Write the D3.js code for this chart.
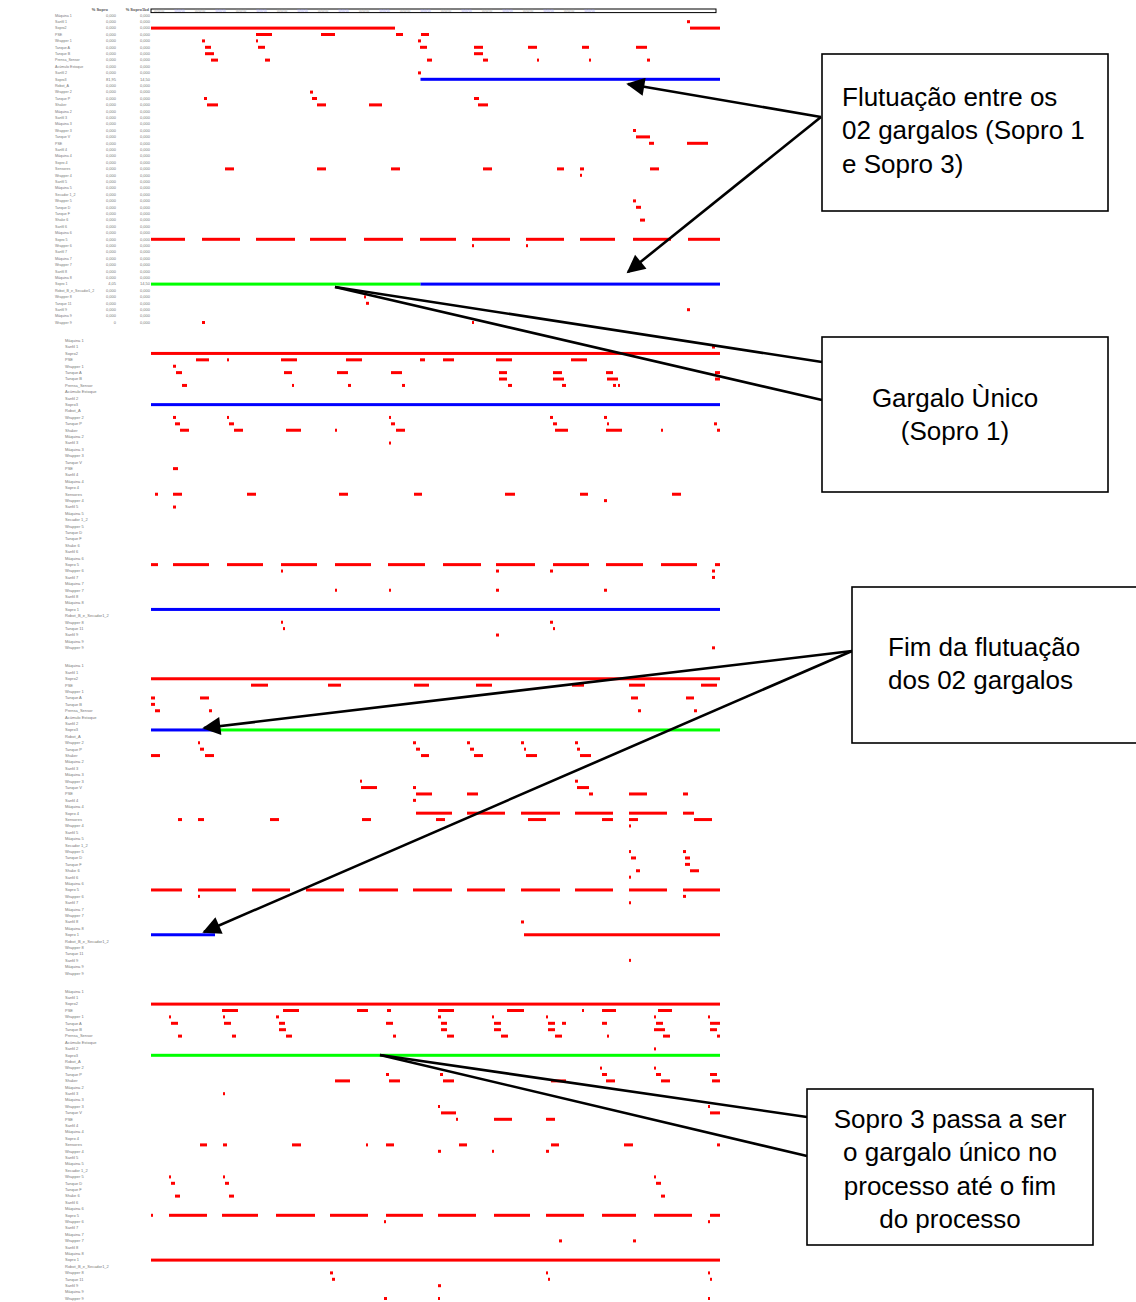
<!DOCTYPE html>
<html>
<head>
<meta charset="utf-8">
<script src="https://cdn.jsdelivr.net/npm/d3@7"></script>
<style>
  body { margin: 0; background: #fff; }
  svg { display: block; }
</style>
</head>
<body>
<div id="chart"></div>
<script>
// row names (same in the 4 blocks)
var rowNames = ["Máquina 1","Sanfil 1","Sopro2","PSE","Wrapper 1","Tanque A","Tanque B","Prensa_Sensor",
  "Acúmulo Estoque","Sanfil 2","Sopro3","Robot_A","Wrapper 2","Tanque P","Shaker","Máquina 2","Sanfil 3",
  "Máquina 3","Wrapper 3","Tanque V","PSE","Sanfil 4","Máquina 4","Sopro 4","Sensores","Wrapper 4",
  "Sanfil 5","Máquina 5","Secador 1_2","Wrapper 5","Tanque D","Tanque F","Shake 6","Sanfil 6","Máquina 6",
  "Sopro 5","Wrapper 6","Sanfil 7","Máquina 7","Wrapper 7","Sanfil 8","Máquina 8","Sopro 1",
  "Robot_B_e_Secador1_2","Wrapper 8","Tanque 11","Sanfil 9","Máquina 9","Wrapper 9"];

// % columns, only shown on the first block
var colHeaders = ["% Sopro", "% Sopro1bd"];
var pctSopro = rowNames.map(function(d, i) { return i == 10 ? "81,95" : i == 42 ? "4,05" : i == 48 ? "0" : "0,000"; });
var pctSoproBd = rowNames.map(function(d, i) { return (i == 10 || i == 42) ? "14,50" : "0,000"; });

var timeDomain = [0, 569];

// red segments: [row, start, end]
var block1 = [[1,536,539],[2,0,244],[2,539,569],
  [3,105,121],[3,170,184],[3,245,252],[3,270,278],
  [4,51,54],[4,105,107],[4,267,270],
  [5,54,60],[5,107,114],[5,269,276],[5,323,332],[5,377,386],[5,431,438],[5,485,496],
  [6,54,63],[6,323,332],
  [7,60,67],[7,114,119],[7,276,281],[7,332,337],[7,386,388],[7,438,440],[7,496,499],
  [9,267,270],[12,159,162],
  [13,53,56],[13,161,166],[13,323,328],
  [14,56,67],[14,166,175],[14,218,231],[14,327,337],
  [18,482,485],[19,485,499],[20,498,503],[20,536,557],
  [24,74,83],[24,166,175],[24,240,249],[24,332,341],[24,406,413],[24,429,433],[24,499,508],
  [25,429,431],[29,482,485],[30,485,490],[32,489,494],
  [35,0,34],[35,51,89],[35,105,144],[35,159,195],[35,213,252],[35,269,305],[35,321,359],[35,375,413],[35,429,464],[35,482,520],[35,537,569],
  [36,321,323],[36,375,377],
  [44,213,215],[45,215,218],[46,536,539],[48,51,54],[48,321,323]];

var block2 = [[1,561,564],[2,0,569],
  [3,45,58],[3,76,78],[3,130,146],[3,195,211],[3,269,274],[3,292,303],[3,345,361],[3,420,436],
  [4,22,25],
  [5,25,31],[5,133,141],[5,186,197],[5,240,251],[5,348,356],[5,402,411],[5,455,462],[5,564,569],
  [6,348,356],[6,402,413],[6,456,467],[6,564,569],
  [7,31,36],[7,141,143],[7,197,200],[7,251,254],[7,357,361],[7,411,415],[7,462,465],[7,467,469],
  [12,22,25],[12,76,78],[12,238,240],[12,399,402],[12,453,456],
  [13,24,29],[13,78,83],[13,240,244],[13,402,406],[13,456,458],[13,563,566],
  [14,29,38],[14,83,92],[14,135,150],[14,184,186],[14,245,254],[14,404,417],[14,455,471],[14,510,512],[14,566,569],
  [16,238,240],[20,22,27],
  [24,4,7],[24,22,31],[24,96,105],[24,188,197],[24,263,271],[24,354,364],[24,429,437],[24,521,530],
  [25,453,456],[26,22,25],
  [35,0,7],[35,22,58],[35,76,112],[35,130,166],[35,184,220],[35,237,274],[35,292,330],[35,345,384],[35,402,438],[35,455,492],[35,510,546],[35,564,569],
  [36,130,132],[36,345,348],[36,399,402],[36,561,564],[37,561,564],
  [39,184,186],[39,238,240],[39,345,348],[39,453,456],
  [44,130,132],[44,399,402],[45,132,134],[45,402,404],[46,345,348],[48,561,564]];

var block3 = [[2,0,569],
  [3,100,117],[3,177,190],[3,263,278],[3,325,341],[3,421,433],[3,478,494],[3,550,566],
  [5,0,4],[5,49,58],[5,480,487],[5,535,543],[6,0,4],
  [7,4,9],[7,58,61],[7,487,490],[7,543,546],
  [12,47,49],[12,262,265],[12,316,319],[12,370,373],[12,424,427],
  [13,49,53],[13,265,269],[13,319,323],[13,373,375],[13,426,429],
  [14,0,9],[14,54,63],[14,270,278],[14,323,332],[14,375,386],[14,429,440],
  [18,209,211],[18,424,427],
  [19,210,226],[19,262,265],[19,426,438],
  [20,265,281],[20,316,327],[20,438,442],[20,478,496],[20,532,537],
  [21,262,265],
  [23,265,301],[23,316,354],[23,370,409],[23,424,462],[23,478,516],[23,532,543],
  [24,27,31],[24,47,53],[24,119,128],[24,211,220],[24,285,294],[24,377,395],[24,451,462],[24,478,487],[24,543,561],
  [25,478,480],[29,478,480],[29,532,535],[30,480,485],[30,534,539],[31,534,539],
  [32,485,489],[32,539,548],[33,478,480],
  [35,0,31],[35,47,85],[35,101,139],[35,155,193],[35,208,247],[35,262,301],[35,316,354],[35,370,409],[35,424,462],[35,478,516],[35,532,569],
  [36,47,49],[36,532,535],[37,478,480],[40,370,373],
  [42,373,569],[46,478,480]];

var block4 = [[2,0,569],
  [3,71,87],[3,132,148],[3,206,217],[3,236,240],[3,287,303],[3,356,373],[3,431,433],[3,451,465],[3,507,521],
  [4,18,20],[4,72,74],[4,125,128],[4,287,290],[4,341,343],[4,395,397],[4,503,505],[4,557,559],
  [5,20,27],[5,73,80],[5,128,134],[5,235,242],[5,290,296],[5,343,350],[5,397,404],[5,411,415],[5,451,456],[5,505,512],[5,559,569],
  [6,128,135],[6,290,296],[6,343,350],[6,397,404],[6,503,514],[6,559,566],
  [7,27,31],[7,81,85],[7,135,141],[7,242,245],[7,296,303],[7,350,357],[7,404,411],[7,456,458],[7,512,519],[7,566,569],
  [9,503,505],[12,449,451],[12,503,505],
  [13,235,238],[13,289,292],[13,451,456],[13,505,510],[13,559,566],
  [14,184,199],[14,238,249],[14,292,303],[14,400,415],[14,455,464],[14,510,519],[14,561,569],
  [16,72,74],[18,287,289],[18,557,559],
  [19,290,305],[19,559,569],
  [20,305,307],[20,343,361],[20,395,404],
  [24,49,56],[24,72,76],[24,141,150],[24,215,217],[24,235,243],[24,308,316],[24,400,408],[24,473,482],[24,566,569],
  [25,287,290],[25,341,343],[25,395,398],
  [29,18,20],[29,72,74],[29,503,505],[30,20,24],[30,74,78],[30,505,510],[32,24,29],[32,78,83],[32,510,514],
  [35,0,2],[35,18,56],[35,71,107],[35,125,164],[35,179,217],[35,235,272],[35,287,325],[35,343,379],[35,395,433],[35,451,485],[35,503,541],[35,559,569],
  [36,233,235],[36,557,559],[39,408,411],[39,482,485],
  [42,0,569],
  [44,179,182],[44,395,397],[44,557,559],[45,181,184],[45,397,399],[45,559,561],
  [46,287,290],[48,233,236],[48,287,289],[48,557,559]];

// bottleneck rows: [block, row, start, end, state]
var gargalos = [[0,10,269.5,569,"flutua"],[0,42,0,269.5,"unico"],[0,42,269.5,569,"flutua"],
  [1,10,0,569,"flutua"],[1,42,0,569,"flutua"],
  [2,10,0,64,"flutua"],[2,10,64,569,"unico"],[2,42,0,64,"flutua"],
  [3,10,0,569,"unico"]];

var notes = [
  ["Flutuação entre os", "02 gargalos (Sopro 1", "e Sopro 3)"],
  ["Gargalo Ùnico", "(Sopro 1)"],
  ["Fim da flutuação", "dos 02 gargalos"],
  ["Sopro 3 passa a ser", "o gargalo único no", "processo até o fim", "do processo"]
];

var width = 1136, height = 1302;
var blocks = [block1, block2, block3, block4];

var svg = d3.select("#chart").append("svg")
  .attr("width", width).attr("height", height);

var x = d3.scaleLinear().domain(timeDomain).range([151, 720]);
var y = d3.scaleLinear().domain([0, 48]).range([0, 307.2]);
var blockTop = d3.scaleLinear().domain([0, 3]).range([15.3, 991.3]);
var color = d3.scaleOrdinal().domain(["flutua","unico"]).range(["#0000ff","#00ff00"]);
var barH = 3;

blocks.forEach(function(data, b) {
  var g = svg.append("g").attr("transform", "translate(0," + blockTop(b) + ")");

  g.selectAll("text.lbl").data(rowNames).enter().append("text")
    .attr("class", "lbl")
    .attr("x", b == 0 ? 55 : 65).attr("y", function(d, i) { return y(i) + 1.4; })
    .style("font-family", "Liberation Sans, Arial, sans-serif")
    .style("font-size", b == 0 ? "3.6px" : "4px").style("fill", "#777")
    .text(function(d) { return d; });

  if (b == 0) {
    g.selectAll("text.c1").data(pctSopro).enter().append("text")
      .attr("x", 116).attr("y", function(d, i) { return y(i) + 1.4; })
      .attr("text-anchor", "end")
      .style("font-family", "Liberation Sans, Arial, sans-serif")
      .style("font-size", "4px").style("fill", "#777").text(function(d) { return d; });
    g.selectAll("text.c2").data(pctSoproBd).enter().append("text")
      .attr("x", 150).attr("y", function(d, i) { return y(i) + 1.4; })
      .attr("text-anchor", "end")
      .style("font-family", "Liberation Sans, Arial, sans-serif")
      .style("font-size", "4px").style("fill", "#777").text(function(d) { return d; });
    // header
    g.selectAll("text.h").data(colHeaders).enter().append("text")
      .attr("x", function(d, i) { return i == 0 ? 108 : 149; })
      .attr("y", -4.2).attr("text-anchor", "end")
      .style("font-family", "Liberation Sans, Arial, sans-serif")
      .style("font-size", "4px").style("font-weight", "bold").style("fill", "#555")
      .text(function(d) { return d; });
    g.append("rect").attr("x", 151).attr("y", -6.3).attr("width", 565).attr("height", 3.6)
      .style("fill", "#fff").style("stroke", "#000").style("stroke-width", 1);
    var tk = d3.range(0, 22);
    g.selectAll("text.tk").data(tk).enter().append("text")
      .attr("x", function(d) { return 154 + d * 20.5; }).attr("y", -3.3)
      .style("font-family", "Liberation Sans, Arial, sans-serif")
      .style("font-size", "2.6px")
      .style("fill", function(d) { return d % 2 ? "#9999ee" : "#999"; })
      .text("00:00:00");
  }

  g.selectAll("rect.bar").data(data).enter().append("rect")
    .attr("class", "bar")
    .attr("x", function(d) { return x(d[1]); })
    .attr("y", function(d) { return y(d[0]) - barH / 2; })
    .attr("width", function(d) { return Math.max(1.5, x(d[2]) - x(d[1])); })
    .attr("height", barH)
    .style("fill", "#ff0000");

  g.selectAll("rect.gg").data(gargalos.filter(function(d) { return d[0] == b; })).enter().append("rect")
    .attr("class", "gg")
    .attr("x", function(d) { return x(d[2]); })
    .attr("y", function(d) { return y(d[1]) - barH / 2; })
    .attr("width", function(d) { return x(d[3]) - x(d[2]); })
    .attr("height", barH)
    .style("fill", function(d) { return color(d[4]); });
});

// callouts
var boxes = [
  {x: 822, y: 54, w: 286, h: 157, tx: 842, anchor: "start", by: 106},
  {x: 822, y: 337, w: 286, h: 155, tx: 955, anchor: "middle", by: 407},
  {x: 852, y: 587, w: 300, h: 156, tx: 888, anchor: "start", by: 656},
  {x: 807, y: 1089, w: 286, h: 156, tx: 950, anchor: "middle", by: 1128}
];

svg.append("defs").append("marker")
  .attr("id", "head").attr("viewBox", "0 0 10 10")
  .attr("refX", 9).attr("refY", 5)
  .attr("markerWidth", 7.5).attr("markerHeight", 7)
  .attr("markerUnits", "strokeWidth")
  .attr("orient", "auto")
  .append("path").attr("d", "M0,0 L10,5 L0,10 Z").style("fill", "#000");

var lines = [
  [821, 117, 628, 84, true], [821, 117, 628, 272, true],
  [335, 287, 822, 362, false], [335, 287, 822, 400, false],
  [852, 651, 204, 728, true], [852, 651, 204, 932, true],
  [380, 1055, 807, 1117, false], [380, 1055, 807, 1156, false]
];

svg.selectAll("line.arrow").data(lines).enter().append("line")
  .attr("class", "arrow")
  .attr("x1", function(d) { return d[0]; }).attr("y1", function(d) { return d[1]; })
  .attr("x2", function(d) { return d[2]; }).attr("y2", function(d) { return d[3]; })
  .style("stroke", "#000").style("stroke-width", 2.6)
  .attr("marker-end", function(d) { return d[4] ? "url(#head)" : null; });

boxes.forEach(function(bx, i) {
  svg.append("rect").attr("x", bx.x).attr("y", bx.y).attr("width", bx.w).attr("height", bx.h)
    .style("fill", "#fff").style("stroke", "#000").style("stroke-width", 1.6);
  svg.append("g").selectAll("text").data(notes[i]).enter().append("text")
    .attr("x", bx.tx).attr("y", function(d, j) { return bx.by + j * 33.4; })
    .attr("text-anchor", bx.anchor)
    .style("font-family", "Liberation Sans, Arial, sans-serif")
    .style("font-size", "26px").style("fill", "#000")
    .text(function(d) { return d; });
});
</script>
</body>
</html>
